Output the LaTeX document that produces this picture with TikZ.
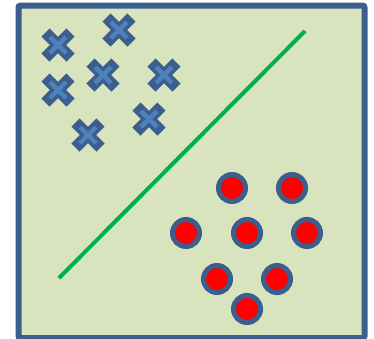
\documentclass[tikz,border=0pt]{standalone}
\definecolor{frameblue}{HTML}{3B5E8C}
\definecolor{crossblue}{HTML}{4F81BD}
\definecolor{panelgreen}{HTML}{D8E4BD}
\definecolor{linegreen}{HTML}{00B050}
\begin{document}
\begin{tikzpicture}[x=1pt,y=-1pt,
  panel/.style={draw=frameblue, fill=panelgreen, line width=6pt, rounded corners=2pt},
  xouter/.style={draw=frameblue, line width=11.5pt},
  xinner/.style={draw=crossblue, line width=4.5pt},
  dot/.style={circle, draw=frameblue, fill=red, line width=5pt, minimum size=27pt, inner sep=0pt},
  splitter/.style={draw=linegreen, line width=4pt}]
\useasboundingbox (0,0) rectangle (374,338);
\draw[panel] (18.5,5.5) rectangle (364.5,338);
% class one: crosses
\foreach \x/\y [count=\i] in {58/45, 119/30, 103/75, 58/90, 164/75, 149/119, 88/135}{
  \begin{scope}[shift={(\x,\y)}]
    \draw[xouter] (-12.5,-12.5)--(12.5,12.5) (-12.5,12.5)--(12.5,-12.5);
    \draw[xinner] (-8,-8)--(8,8) (-8,8)--(8,-8);
  \end{scope}
}
% class two: dots
\foreach \x/\y [count=\i] in {232/188, 292/188, 186/233, 247/233, 307/233, 217/279, 277/279, 247/309}{
  \node[dot] (dot\i) at (\x,\y) {};
}
% separating line
\coordinate (lo) at (59,278);
\coordinate (hi) at (305,31);
\draw[splitter] (lo)--(hi);
\end{tikzpicture}
\end{document}
